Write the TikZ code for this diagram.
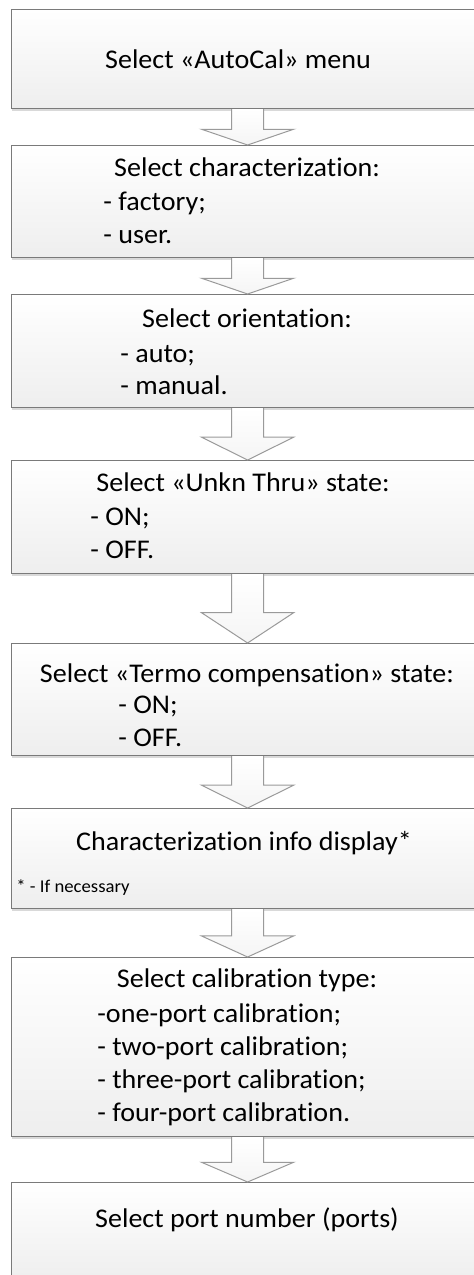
\documentclass[tikz,border=0pt]{standalone}
\usepackage{fontspec}
\setmainfont{Carlito}[Ligatures=NoCommon, FakeStretch=1.04]
\usetikzlibrary{calc,shadows}

\definecolor{boxline}{HTML}{7A7A7A}
\definecolor{boxshade}{HTML}{EEEEEE}
\definecolor{arrowline}{HTML}{9A9A9A}

\tikzset{
  stage/.style={draw=boxline, line width=0.6pt, top color=white, bottom color=boxshade,
    minimum width=236pt, inner sep=0pt, anchor=north west,
    drop shadow={shadow xshift=0pt, shadow yshift=-1.2pt, fill=black!25, opacity=0.6}},
  title/.style={anchor=base, inner sep=0pt, font=\fontsize{13.5}{16.5}\selectfont},
  item/.style={anchor=base west, inner sep=0pt, font=\fontsize{13.5}{16.5}\selectfont},
  note/.style={anchor=base west, inner sep=0pt, font=\fontsize{9}{11}\selectfont},
  flowarrow/.style={draw=arrowline, line width=0.5pt, top color=white, bottom color=black!4, line join=miter}
}

\begin{document}
\begin{tikzpicture}[x=0.5pt, y=-0.5pt]
    \useasboundingbox (0,0) rectangle (474,1275);
    \clip (0,0) rectangle (474,1275);

    % 1. Stage boxes
    \node[stage, minimum height=49.5pt] (b1) at (11,9) {};
    \node[stage, minimum height=56pt]   (b2) at (11,145) {};
    \node[stage, minimum height=56.5pt] (b3) at (11,294) {};
    \node[stage, minimum height=56.5pt] (b4) at (11,460) {};
    \node[stage, minimum height=56pt]   (b5) at (11,643) {};
    \node[stage, minimum height=50pt]   (b6) at (11,808) {};
    \node[stage, minimum height=89.5pt] (b7) at (11,957) {};
    \node[stage, minimum height=49.5pt] (b8) at (11,1182) {};

    % 2. Block arrows between the stages
    \foreach \a/\b in {b1/b2,b2/b3,b3/b4,b4/b5,b5/b6,b6/b7,b7/b8} {
        \draw[flowarrow] ($(\a.south)+(-16,0)$)
            -- ($(\a.south)!0.56!(\b.north)+(-16,0)$)
            -- ($(\a.south)!0.56!(\b.north)+(-46,0)$)
            -- (\b.north)
            -- ($(\a.south)!0.56!(\b.north)+(46,0)$)
            -- ($(\a.south)!0.56!(\b.north)+(16,0)$)
            -- ($(\a.south)+(16,0)$);
    }

    % 3. Texts
    \node[title] (t1) at (238,68) {Select «AutoCal» menu};

    \node[title] (t2) at (247,176) {Select characterization:};
    \foreach \t [count=\i from 0] in {- factory;, - user.}
        \node[item] (i2-\i) at (103,{210+33*\i}) {\t};

    \node[title] (t3) at (247,327) {Select orientation:};
    \foreach \t [count=\i from 0] in {- auto;, - manual.}
        \node[item] (i3-\i) at (120,{362+32*\i}) {\t};

    \node[title] (t4) at (243,491) {Select «Unkn Thru» state:};
    \foreach \t [count=\i from 0] in {- ON;, - OFF.}
        \node[item] (i4-\i) at (90,{525+33*\i}) {\t};

    \node[title] (t5) at (247,682) {Select «Termo compensation» state:};
    \foreach \t [count=\i from 0] in {- ON;, - OFF.}
        \node[item] (i5-\i) at (118,{713+33*\i}) {\t};

    \node[title] (t6) at (244,850) {Characterization info display*};
    \node[note] (n6) at (16,892) {* - If necessary};

    \node[title] (t7) at (247,987) {Select calibration type:};
    \foreach \t [count=\i from 0] in {-one-port calibration;, - two-port calibration;,
        - three-port calibration;, - four-port calibration.}
        \node[item] (i7-\i) at (97,{1022+33*\i}) {\t};

    \node[title] (t8) at (247,1227) {Select port number (ports)};
\end{tikzpicture}
\end{document}
